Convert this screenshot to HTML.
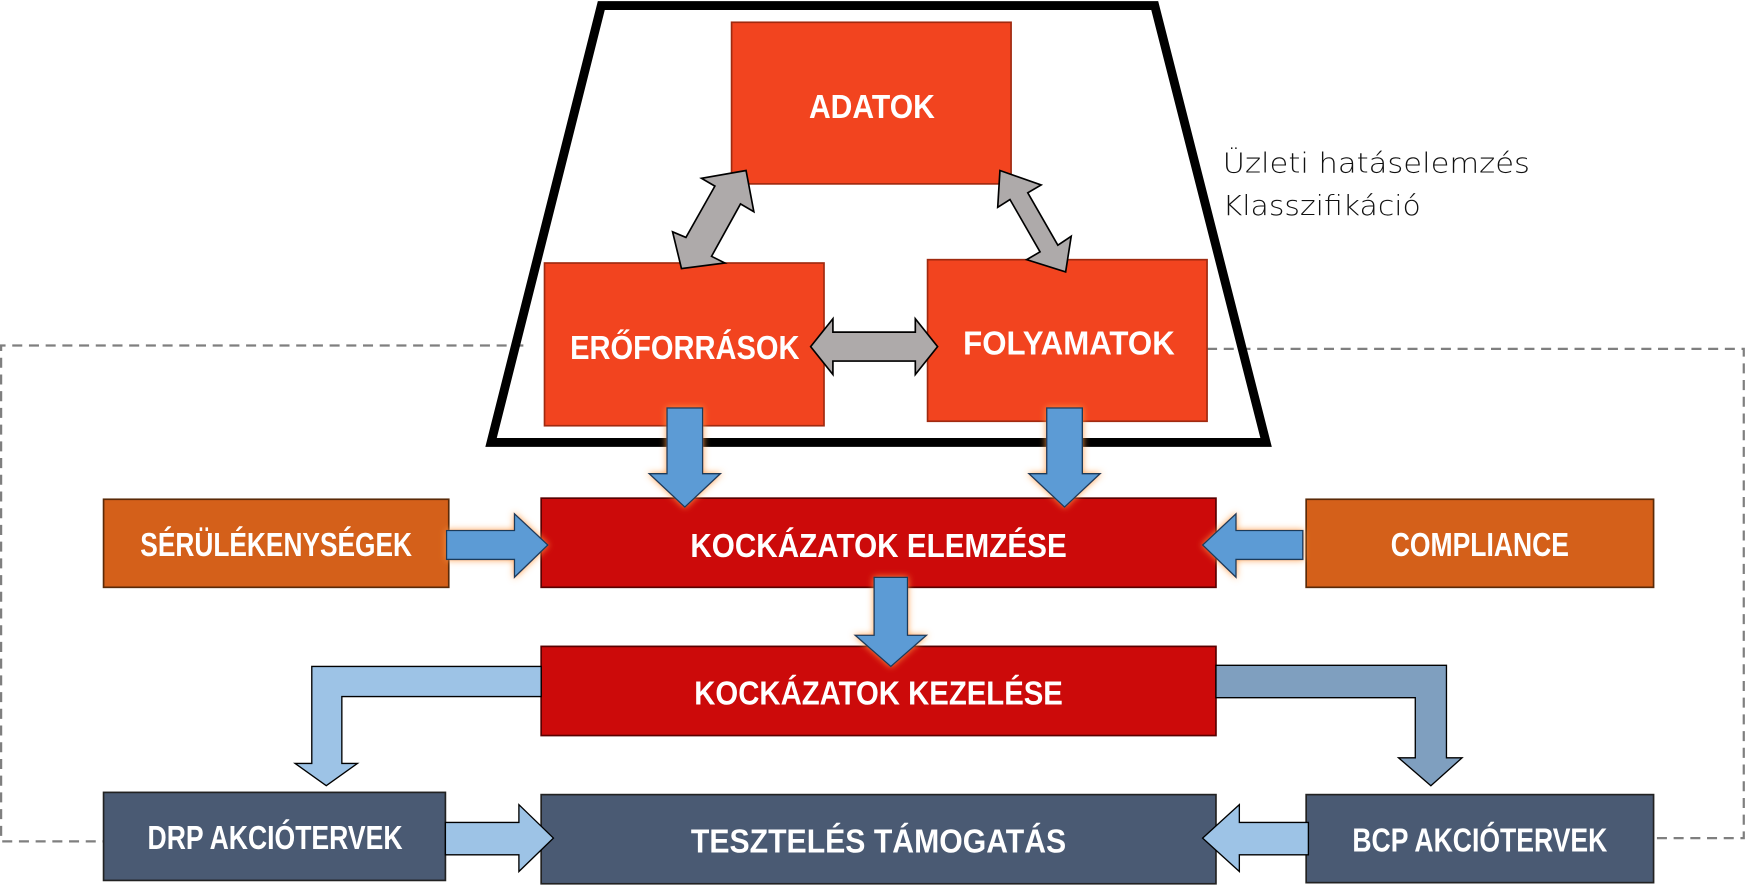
<!DOCTYPE html>
<html><head><meta charset="utf-8"><style>
html,body{margin:0;padding:0;background:#fff;}
svg{display:block;}
.t{font-family:"Liberation Sans Narrow","Liberation Sans",sans-serif;font-weight:bold;fill:#fff;font-size:30px;}
</style></head><body>
<svg width="1746" height="886" viewBox="0 0 1568 795" preserveAspectRatio="none" xmlns="http://www.w3.org/2000/svg">
<defs>
<filter id="gl" x="-20%" y="-20%" width="140%" height="140%"><feDropShadow dx="0" dy="0" stdDeviation="3" flood-color="#ff9a40" flood-opacity="0.9"/></filter>
</defs>
<!-- dashed loop -->
<polyline points="470,310 1,310 1,755 93,755" fill="none" stroke="#7f7f7f" stroke-width="2" stroke-dasharray="9,6"/>
<polyline points="1084,313 1566,313 1566,752 1487,752" fill="none" stroke="#7f7f7f" stroke-width="2" stroke-dasharray="9,6"/>
<!-- trapezoid -->
<polygon points="540,5 1037,5 1137,397 441,397" fill="none" stroke="#000" stroke-width="8"/>
<!-- top boxes -->
<rect x="657" y="20" width="251" height="145" fill="#f2441f" stroke="#a02a10" stroke-width="1.5"/>
<rect x="489" y="236" width="251" height="146" fill="#f2441f" stroke="#a02a10" stroke-width="1.5"/>
<rect x="833" y="233" width="251" height="145" fill="#f2441f" stroke="#a02a10" stroke-width="1.5"/>
<!-- gray double arrows -->
<g fill="#aeaaaa" stroke="#000" stroke-width="1.5">
<polygon points="670,153 677,190 665,183 639,230 651,236 612,241 604,208 616,213 642,167 630,160"/>
<polygon points="898,153 935,166 923,173 950,220 962,212 957,244 922,233 934,226 907,179 896,186"/>
<polygon points="728,311 748,286 748,298 822,298 822,286 842,311 822,336 822,324 748,324 748,336"/>
</g>
<!-- main rows -->
<rect x="93" y="448" width="310" height="79" fill="#d4601a" stroke="#5a2a08" stroke-width="1.5"/>
<rect x="1173" y="448" width="312" height="79" fill="#d4601a" stroke="#5a2a08" stroke-width="1.5"/>
<rect x="486" y="447" width="606" height="80" fill="#cc0a0a" stroke="#5a0000" stroke-width="1.5"/>
<rect x="486" y="580" width="606" height="80" fill="#cc0a0a" stroke="#5a0000" stroke-width="1.5"/>
<rect x="93" y="711" width="307" height="79" fill="#4a5a73" stroke="#222" stroke-width="1.5"/>
<rect x="486" y="713" width="606" height="80" fill="#4a5a73" stroke="#222" stroke-width="1.5"/>
<rect x="1173" y="713" width="312" height="79" fill="#4a5a73" stroke="#222" stroke-width="1.5"/>
<!-- blue arrows -->
<g fill="#5b9bd5" stroke="#1f3a5a" stroke-width="1.2" filter="url(#gl)">
<polygon points="599,366 631,366 631,425 647,425 615,455 583,425 599,425"/>
<polygon points="940,366 972,366 972,425 988,425 956,455 924,425 940,425"/>
<polygon points="401,476 462,476 462,461 492,489 462,518 462,502 401,502"/>
<polygon points="1170,476 1110,476 1110,461 1080,489 1110,518 1110,502 1170,502"/>
<polygon points="785,518 815,518 815,570 832,570 800,598 768,570 785,570"/>
</g>
<g fill="#9dc3e6" stroke="#000" stroke-width="1.2">
<polygon points="486,598 280,598 280,685 265,685 293,705 321,685 307,685 307,625 486,625"/>
<polygon points="400,738 466,738 466,722 497,752 466,782 466,767 400,767"/>
<polygon points="1175,738 1113,738 1113,722 1080,752 1113,782 1113,767 1175,767"/>
</g>
<polygon points="1092,597 1299,597 1299,680 1313,680 1285,705 1256,680 1271,680 1271,626 1092,626" fill="#7f9fbf" stroke="#000" stroke-width="1.2"/>
<!-- labels -->
<text class="t" x="783" y="106" text-anchor="middle" textLength="113" lengthAdjust="spacingAndGlyphs">ADATOK</text>
<text class="t" x="615" y="322" text-anchor="middle" textLength="206" lengthAdjust="spacingAndGlyphs">ERŐFORRÁSOK</text>
<text class="t" x="960" y="318" text-anchor="middle" textLength="190" lengthAdjust="spacingAndGlyphs">FOLYAMATOK</text>
<text class="t" x="248" y="499" text-anchor="middle" font-size="27" textLength="244" lengthAdjust="spacingAndGlyphs">SÉRÜLÉKENYSÉGEK</text>
<text class="t" x="789" y="500" text-anchor="middle" textLength="338" lengthAdjust="spacingAndGlyphs">KOCKÁZATOK ELEMZÉSE</text>
<text class="t" x="1329" y="499" text-anchor="middle" font-size="27" textLength="160" lengthAdjust="spacingAndGlyphs">COMPLIANCE</text>
<text class="t" x="789" y="632" text-anchor="middle" textLength="331" lengthAdjust="spacingAndGlyphs">KOCKÁZATOK KEZELÉSE</text>
<text class="t" x="247" y="762" text-anchor="middle" font-size="27" textLength="229" lengthAdjust="spacingAndGlyphs">DRP AKCIÓTERVEK</text>
<text class="t" x="789" y="765" text-anchor="middle" textLength="337" lengthAdjust="spacingAndGlyphs">TESZTELÉS TÁMOGATÁS</text>
<text class="t" x="1329" y="764" text-anchor="middle" font-size="27" textLength="229" lengthAdjust="spacingAndGlyphs">BCP AKCIÓTERVEK</text>
<text x="1098" y="155" font-family="'DejaVu Sans','Liberation Sans',sans-serif" font-size="25" fill="#111" font-weight="300" textLength="276" lengthAdjust="spacingAndGlyphs">Üzleti hatáselemzés</text>
<text x="1098" y="193" font-family="'DejaVu Sans','Liberation Sans',sans-serif" font-size="25" fill="#111" font-weight="300" textLength="178" lengthAdjust="spacingAndGlyphs">Klasszifikáció</text>
</svg>
</body></html>
